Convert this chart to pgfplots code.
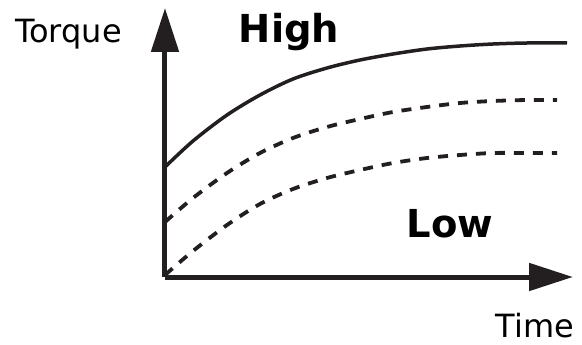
\documentclass[border=0pt]{standalone}
\usepackage{pgfplots}
\pgfplotsset{compat=1.18}
\usepackage{fontspec}
\setmainfont{DejaVu Sans}
\usetikzlibrary{arrows.meta,calc}
\definecolor{ink}{HTML}{231F20}

\begin{document}
\begin{tikzpicture}
\begin{axis}[
    name=ax,
    scale only axis,
    width=408bp, height=269bp,
    xmin=0, xmax=408,
    ymin=0, ymax=269,
    axis lines=left,
    xtick=\empty, ytick=\empty,
    axis line style={ink, line width=5bp},
    x axis line style={-{Triangle[length=44bp,width=27bp]}},
    y axis line style={-{Triangle[length=44bp,width=27bp]}},
    clip=false,
    ]
    % solid curve (high)
    \addplot[ink, line width=3.5bp, smooth] coordinates {
        (0,110) (28,136) (62,162) (95,182) (128,198) (162,209) (195,217)
        (228,223) (262,228) (295,231) (328,233) (362,234) (402,234)
    };
    % dashed curves
    \addplot[ink, line width=3.8bp, smooth, dash pattern=on 10bp off 9bp] coordinates {
        (0,55) (28,79) (62,104) (95,124) (128,139) (162,150) (195,158)
        (228,165) (262,170) (295,174) (328,176) (362,177) (392,177)
    };
    \addplot[ink, line width=3.8bp, smooth, dash pattern=on 10bp off 9bp] coordinates {
        (0,2) (28,26) (62,52) (95,73) (128,88) (162,99) (195,107)
        (228,114) (262,119) (295,122) (328,124) (362,124) (392,124)
    };
    \node[anchor=base, text=black, font=\fontsize{32bp}{38bp}\selectfont] at (axis cs:-96.5,234) {Torque};
    \node[anchor=base, text=black, font=\fontsize{32bp}{38bp}\selectfont] at (axis cs:370,-60) {Time};
    \node[anchor=base, text=black, font=\fontsize{38.5bp}{46bp}\selectfont\bfseries] at (axis cs:124,234) {High};
    \node[anchor=base, text=black, font=\fontsize{38.5bp}{46bp}\selectfont\bfseries] at (axis cs:285,39) {Low};
\end{axis}
\pgfresetboundingbox
\path[use as bounding box] ($(ax.origin)+(-165bp,-68bp)$) rectangle ($(ax.origin)+(417bp,277bp)$);
\end{tikzpicture}
\end{document}
